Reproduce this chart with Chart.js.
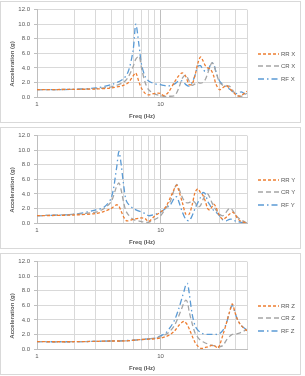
<!DOCTYPE html>
<html>
<head>
<meta charset="utf-8">
<script src="https://cdn.jsdelivr.net/npm/chart.js@4.4.0/dist/chart.umd.min.js"></script>
<style>
  body { margin: 0; background: #fff; }
  .box { position: absolute; left: 0; width: 299px; height: 120px; border: 1px solid #d9d9d9; }
  .box canvas { display: block; }
</style>
</head>
<body>
<div class="box" style="top:1px"><canvas id="chartX"></canvas></div>
<div class="box" style="top:127px"><canvas id="chartY"></canvas></div>
<div class="box" style="top:253px"><canvas id="chartZ"></canvas></div>
<script>
// X direction
const freqX = [1, 2, 3, 4, 5, 5.5, 6, 6.3, 6.7, 7, 7.5, 8, 9, 10, 10.6, 11.5, 13, 14, 15, 16, 17, 18, 19, 20, 21, 22, 23, 24, 25, 26, 27, 28, 30, 32, 34, 36, 38, 40, 42, 45, 50];
const rrX = [1.0, 1.05, 1.1, 1.25, 1.6, 2.0, 2.9, 3.3, 2.0, 1.2, 0.5, 0.3, 0.5, 0.5, 0.2, 0.6, 2.1, 2.9, 3.3, 2.8, 1.7, 1.8, 3.0, 4.6, 5.5, 5.0, 4.3, 4.0, 3.9, 3.5, 2.8, 1.8, 1.0, 1.3, 1.6, 1.2, 0.8, 0.4, 0.15, 0.2, 0.8];
const crX = [1.0, 1.05, 1.15, 1.4, 2.0, 2.8, 4.2, 5.2, 5.6, 4.0, 2.0, 1.0, 0.4, 0.2, 0.1, 0.1, 0.2, 1.2, 2.6, 3.0, 2.2, 1.6, 1.8, 2.0, 1.9, 2.0, 2.4, 3.2, 4.1, 4.7, 4.4, 3.5, 2.0, 1.6, 1.5, 1.5, 1.0, 0.5, 0.2, 0.1, 0.5];
const rfX = [1.0, 1.05, 1.25, 1.7, 2.5, 3.6, 6.5, 10.0, 7.0, 4.5, 2.8, 2.2, 1.8, 1.7, 1.6, 1.5, 1.8, 2.2, 2.2, 1.7, 1.5, 2.0, 3.0, 4.2, 4.3, 3.8, 3.5, 3.6, 4.2, 4.7, 4.4, 3.5, 2.2, 1.7, 1.4, 1.1, 0.8, 0.5, 0.5, 0.7, 0.2];

// Y direction
const freqY = [1, 2, 3, 3.5, 4, 4.4, 4.6, 4.8, 5, 5.3, 6, 7, 7.5, 8, 9, 10, 11, 12, 13, 13.5, 14, 15, 16, 17, 18, 19, 20, 21, 22, 23, 24, 25, 26, 27, 28, 30, 32, 34, 36, 38, 40, 42, 45, 50];
const rrY = [1.0, 1.1, 1.3, 1.6, 2.0, 2.5, 2.3, 1.6, 0.9, 0.3, 0.5, 0.7, 0.6, 0.2, 1.0, 1.5, 2.2, 3.5, 4.8, 5.2, 4.5, 2.8, 1.2, 1.2, 2.5, 4.2, 4.7, 4.2, 3.8, 3.0, 2.0, 1.8, 2.2, 2.6, 2.2, 1.0, 0.5, 0.8, 1.2, 1.5, 1.2, 0.6, 0.2, 0.0];
const crY = [1.0, 1.2, 1.5, 2.0, 3.0, 5.0, 5.5, 4.5, 3.0, 1.5, 0.5, 0.2, 0.1, 0.1, 0.5, 1.0, 2.0, 3.0, 4.8, 5.3, 4.8, 3.5, 2.8, 2.8, 3.0, 2.8, 2.2, 2.4, 3.2, 3.8, 4.0, 3.5, 2.8, 2.3, 1.8, 1.2, 1.0, 1.5, 2.0, 1.8, 1.2, 0.8, 0.4, 0.0];
const rfY = [1.0, 1.2, 1.8, 2.2, 3.5, 7.5, 9.8, 8.0, 5.5, 3.0, 2.0, 1.5, 1.3, 1.0, 1.2, 1.5, 2.0, 2.5, 3.5, 3.6, 3.0, 1.5, 0.5, 0.3, 1.0, 2.0, 2.8, 3.5, 4.2, 4.0, 3.0, 2.5, 2.0, 1.7, 1.5, 1.0, 0.4, 0.3, 0.5, 0.5, 0.3, 0.2, 0.1, 0.0];

// Z direction
const freqZ = [1, 2, 3, 4, 5, 6, 7, 8, 9, 10, 11, 12, 13, 14, 15, 15.5, 16, 16.5, 17, 18, 19, 20, 21, 22, 24, 26, 27, 28, 29, 30, 32, 34, 36, 38, 40, 42, 45, 50];
const rrZ = [1.0, 1.0, 1.05, 1.1, 1.1, 1.2, 1.3, 1.35, 1.4, 1.5, 1.7, 2.0, 2.5, 3.2, 3.7, 3.8, 3.6, 3.3, 2.8, 1.8, 0.9, 0.4, 0.1, 0.1, 0.3, 0.5, 0.5, 0.3, 0.1, 0.5, 2.0, 3.5, 5.0, 6.2, 5.0, 4.0, 3.2, 2.5];
const crZ = [1.0, 1.0, 1.05, 1.1, 1.1, 1.2, 1.3, 1.4, 1.5, 1.7, 2.0, 2.5, 3.3, 4.5, 5.8, 6.4, 6.7, 6.4, 5.2, 3.5, 2.2, 1.6, 1.2, 1.0, 0.7, 0.5, 0.45, 0.4, 0.35, 0.3, 0.5, 1.2, 1.7, 2.0, 2.0, 2.1, 2.3, 2.7];
const rfZ = [1.0, 1.0, 1.05, 1.1, 1.15, 1.2, 1.3, 1.4, 1.5, 1.8, 2.2, 3.0, 4.0, 5.5, 7.2, 8.0, 8.8, 9.0, 7.8, 4.8, 3.2, 2.6, 2.3, 2.1, 2.0, 2.0, 2.0, 2.0, 2.0, 2.1, 2.6, 3.5, 5.0, 6.0, 5.0, 4.0, 3.2, 2.6];

const xTicks = [1, 2, 3, 4, 5, 6, 7, 8, 9, 10, 20, 30, 40, 50];
const xLabels = [1, 10];

const textColor = '#595959';
const fontFamily = '"Liberation Sans", Arial, sans-serif';

const sideLegend = {
    id: 'sideLegend',
    afterDraw(chart) {
        const ctx = chart.ctx;
        const x0 = Math.round(chart.chartArea.right) + 11;
        const midY = Math.round(chart.height / 2) + 4;
        ctx.save();
        chart.data.datasets.forEach((ds, i) => {
            const y = Math.round(midY + (i - 1) * 12.5);
            ctx.strokeStyle = ds.borderColor;
            ctx.lineWidth = 1.5;
            ctx.setLineDash(ds.borderDash);
            ctx.beginPath();
            ctx.moveTo(x0, y);
            ctx.lineTo(x0 + 21, y);
            ctx.stroke();
            ctx.setLineDash([]);
            ctx.fillStyle = textColor;
            ctx.font = '6px ' + fontFamily;
            ctx.textBaseline = 'middle';
            ctx.fillText(ds.label, x0 + 23, y);
        });
        // y axis title, centred on the whole box like the original
        ctx.translate(11, chart.height / 2 + 2);
        ctx.rotate(-Math.PI / 2);
        ctx.font = 'bold 6px ' + fontFamily;
        ctx.textAlign = 'center';
        ctx.textBaseline = 'middle';
        ctx.fillStyle = textColor;
        ctx.fillText('Acceleration (g)', 0, 0);
        ctx.restore();
    }
};

function toPoints(freq, vals) {
    return freq.map((f, i) => ({ x: f, y: vals[i] }));
}

function makeChart(id, freq, rr, cr, rf, dir) {
    const series = [
        { label: 'RR ' + dir, vals: rr, color: '#ED7D31', dash: [3, 2] },
        { label: 'CR ' + dir, vals: cr, color: '#A5A5A5', dash: [5, 3] },
        { label: 'RF ' + dir, vals: rf, color: '#5B9BD5', dash: [6, 3, 1.5, 3] }
    ];
    return new Chart(document.getElementById(id), {
        type: 'line',
        data: {
            datasets: series.map(s => ({
                label: s.label,
                data: toPoints(freq, s.vals),
                borderColor: s.color,
                backgroundColor: s.color,
                borderDash: s.dash,
                borderWidth: 1.3,
                pointRadius: 0,
                tension: 0.3,
                fill: false
            }))
        },
        options: {
            responsive: true,
            maintainAspectRatio: false,
            animation: false,
            layout: { padding: { left: 0, right: 53, top: 6, bottom: 0 } },
            plugins: { legend: { display: false }, tooltip: { enabled: false } },
            scales: {
                x: {
                    type: 'logarithmic',
                    min: 1,
                    max: 50,
                    afterBuildTicks: scale => {
                        scale.ticks = xTicks.map(v => ({ value: v }));
                    },
                    afterFit: scale => { scale.height = 25; },
                    ticks: {
                        autoSkip: false,
                        maxRotation: 0,
                        padding: 4,
                        color: textColor,
                        font: { family: fontFamily, size: 6 },
                        callback: v => xLabels.includes(v) ? String(v) : ''
                    },
                    grid: {
                        drawTicks: false,
                        color: c => (c.tick && c.tick.value === 10) ? '#bfbfbf' : '#d9d9d9'
                    },
                    border: { color: '#bfbfbf' },
                    title: {
                        display: true,
                        text: 'Freq (Hz)',
                        color: textColor,
                        font: { family: fontFamily, size: 6, weight: 'bold' },
                        padding: { top: 0, bottom: 2.4 }
                    }
                },
                y: {
                    min: 0,
                    max: 12,
                    afterFit: scale => { scale.width = 36; },
                    ticks: {
                        stepSize: 2,
                        padding: 4,
                        color: textColor,
                        font: { family: fontFamily, size: 6 },
                        callback: v => v.toFixed(1)
                    },
                    grid: { color: '#d9d9d9', tickLength: 3, tickColor: '#bfbfbf' },
                    border: { color: '#bfbfbf' }
                }
            }
        },
        plugins: [sideLegend]
    });
}

makeChart('chartX', freqX, rrX, crX, rfX, 'X');
makeChart('chartY', freqY, rrY, crY, rfY, 'Y');
makeChart('chartZ', freqZ, rrZ, crZ, rfZ, 'Z');
</script>
</body>
</html>
